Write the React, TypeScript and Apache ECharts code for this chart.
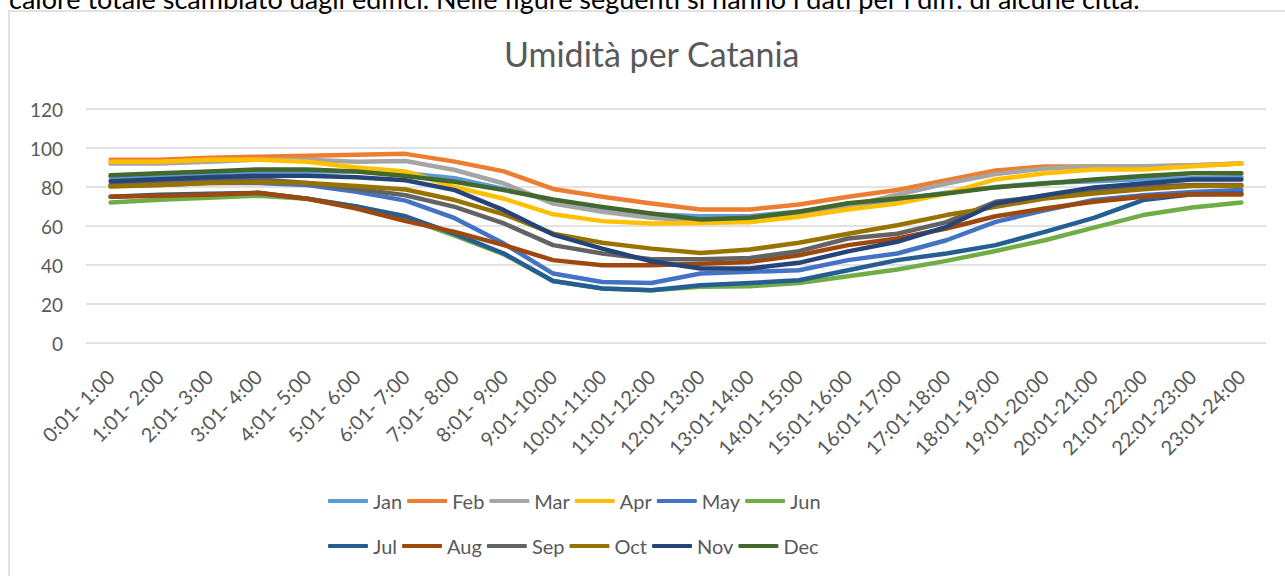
import React, { useEffect, useRef } from "react";
import * as echarts from "echarts";

const hours = [
  "0:01- 1:00", "1:01- 2:00", "2:01- 3:00", "3:01- 4:00", "4:01- 5:00", "5:01- 6:00",
  "6:01- 7:00", "7:01- 8:00", "8:01- 9:00", "9:01-10:00", "10:01-11:00", "11:01-12:00",
  "12:01-13:00", "13:01-14:00", "14:01-15:00", "15:01-16:00", "16:01-17:00", "17:01-18:00",
  "18:01-19:00", "19:01-20:00", "20:01-21:00", "21:01-22:00", "22:01-23:00", "23:01-24:00",
];

const yTicks = [0, 20, 40, 60, 80, 100, 120];

const jan = [85, 86, 87, 88, 88, 88, 87, 84.5, 79, 73, 69, 66, 65, 65, 67.5, 70.5, 73.5, 77, 80, 82, 83, 84, 84.5, 85];
const feb = [94, 94, 95, 95.5, 96, 96.5, 97, 93, 88, 79, 75, 71.5, 68.5, 68.5, 71, 75, 78.5, 83.5, 88.5, 90.5, 90.5, 90.5, 91, 92];
const mar = [92, 92, 93, 94, 94, 93, 93.3, 88.7, 81.8, 71.5, 67.3, 64.2, 62.5, 62.1, 65.6, 70, 76, 81.8, 86.6, 89.5, 90.7, 90.7, 91.2, 92];
const apr = [93, 93, 94, 94, 93, 90, 88, 80, 74, 66, 62.5, 61.3, 61.6, 62.1, 64.7, 68.5, 71.5, 76.7, 83.9, 87, 89, 89, 90.7, 92];
const may = [80.5, 81, 82, 82, 81, 77.5, 73, 64, 51, 35.6, 31.3, 30.8, 35.6, 36.5, 37.3, 42.5, 45.9, 52.7, 62.1, 68.1, 73.3, 75.8, 77.5, 78.4];
const jun = [72, 73.5, 74.5, 75.5, 74, 70, 64, 55, 45.5, 31.8, 28, 27, 28.8, 29.1, 30.8, 34.2, 37.7, 42.1, 47.2, 52.7, 59.2, 65.6, 69.5, 72];
const jul = [75, 76, 76.5, 77, 74, 70, 65, 56, 45.9, 31.8, 27.9, 27, 29.6, 30.8, 32.2, 37.3, 42.5, 45.9, 50.2, 57, 64.2, 73.3, 76.3, 76.7];
const aug = [75, 75.5, 76, 77, 74, 69, 62.5, 57, 50.2, 42.5, 39.9, 39.9, 40.7, 41.6, 45, 50.2, 53.6, 58.7, 65, 69, 72.4, 75, 76.2, 76.2];
const sep = [81, 82, 83, 84, 82, 79, 75.8, 69.8, 61.3, 50.2, 45.9, 43, 43, 43.6, 47.1, 53.6, 56, 62, 72.4, 75.3, 78.4, 80.1, 81, 81];
const oct = [80.2, 81, 82, 82.5, 82, 80.5, 78.7, 73.3, 66, 56.1, 51.4, 48.4, 46.2, 47.9, 51.4, 56, 60.4, 65.6, 69.8, 74.1, 76.7, 78.9, 80.5, 80.6];
const nov = [83, 84, 85, 85.8, 85.8, 85, 83.5, 78.4, 68.1, 55.6, 48.4, 41.9, 38.2, 38.2, 41.1, 47, 51.9, 59.6, 71.5, 75.8, 79.8, 81.8, 83.9, 83.9];
const dec = [86, 87, 88, 89, 89, 88, 85.6, 82.7, 78.4, 73.6, 69.8, 66.4, 63.3, 64.2, 67.3, 71.7, 74.1, 76.7, 79.8, 81.8, 83.9, 85.6, 87, 87];

const monthNames = ["Jan", "Feb", "Mar", "Apr", "May", "Jun", "Jul", "Aug", "Sep", "Oct", "Nov", "Dec"];
const monthData = [jan, feb, mar, apr, may, jun, jul, aug, sep, oct, nov, dec];
const monthColors = [
  "#5B9BD5", "#ED7D31", "#A5A5A5", "#FFC000", "#4472C4", "#70AD47",
  "#255E91", "#9E480E", "#636363", "#997300", "#264478", "#43682B",
];

const titleText = "Umidità per Catania";
const topText =
  "calore totale scambiato dagli edifici. Nelle figure seguenti si hanno i dati per i diff. di alcune città.";

const FONT = "Lato, 'Open Sans', sans-serif";
const GREY = "#595959";

export default function App() {
  const ref = useRef<HTMLDivElement>(null);

  useEffect(() => {
    if (!ref.current) return;
    const chart = echarts.init(ref.current, undefined, { renderer: "svg" });

    const legendCommon = {
      left: 328,
      padding: 0,
      orient: "horizontal",
      icon: "roundRect",
      itemWidth: 40,
      itemHeight: 4,
      itemGap: 5,
      textStyle: { color: GREY, fontSize: 20, fontFamily: FONT, width: 30 },
    };

    chart.setOption({
      animation: false,
      backgroundColor: "#ffffff",
      title: {
        text: titleText,
        left: 504,
        top: 36,
        padding: 0,
        textStyle: { color: GREY, fontSize: 34, fontWeight: "normal", fontFamily: FONT },
      },
      graphic: [
        {
          type: "rect",
          shape: { x: 9, y: 11, width: 1300, height: 600 },
          style: { fill: "none", stroke: "#d9d9d9", lineWidth: 1.5 },
          silent: true,
        },
        {
          type: "text",
          x: 9,
          y: 12,
          style: {
            text: topText,
            fill: "#000000",
            fontSize: 27,
            fontFamily: FONT,
            verticalAlign: "bottom",
          },
          silent: true,
        },
      ],
      legend: [
        { ...legendCommon, top: 491, data: monthNames.slice(0, 6) },
        { ...legendCommon, top: 536, data: monthNames.slice(6, 12) },
      ],
      grid: { left: 86, right: 19, top: 109, bottom: 233, containLabel: false },
      xAxis: {
        type: "category",
        data: hours,
        boundaryGap: true,
        axisLine: { show: false },
        axisTick: { show: false },
        axisLabel: {
          rotate: 45,
          interval: 0,
          margin: 30,
          color: GREY,
          fontSize: 20,
          fontFamily: FONT,
        },
      },
      yAxis: {
        type: "value",
        min: yTicks[0],
        max: yTicks[yTicks.length - 1],
        interval: 20,
        axisLine: { show: false },
        axisTick: { show: false },
        axisLabel: { color: GREY, fontSize: 19, fontFamily: FONT, margin: 23 },
        splitLine: { lineStyle: { color: "#d9d9d9", width: 1.5 } },
      },
      series: monthNames.map((name, i) => ({
        name,
        type: "line",
        data: monthData[i],
        symbol: "none",
        color: monthColors[i],
        lineStyle: { width: 4.5, color: monthColors[i], cap: "round", join: "round" },
        itemStyle: { color: monthColors[i] },
      })),
    });

    return () => chart.dispose();
  }, []);

  return (
    <div
      ref={ref}
      style={{ position: "absolute", left: 0, top: 0, width: 1285, height: 576 }}
    />
  );
}
